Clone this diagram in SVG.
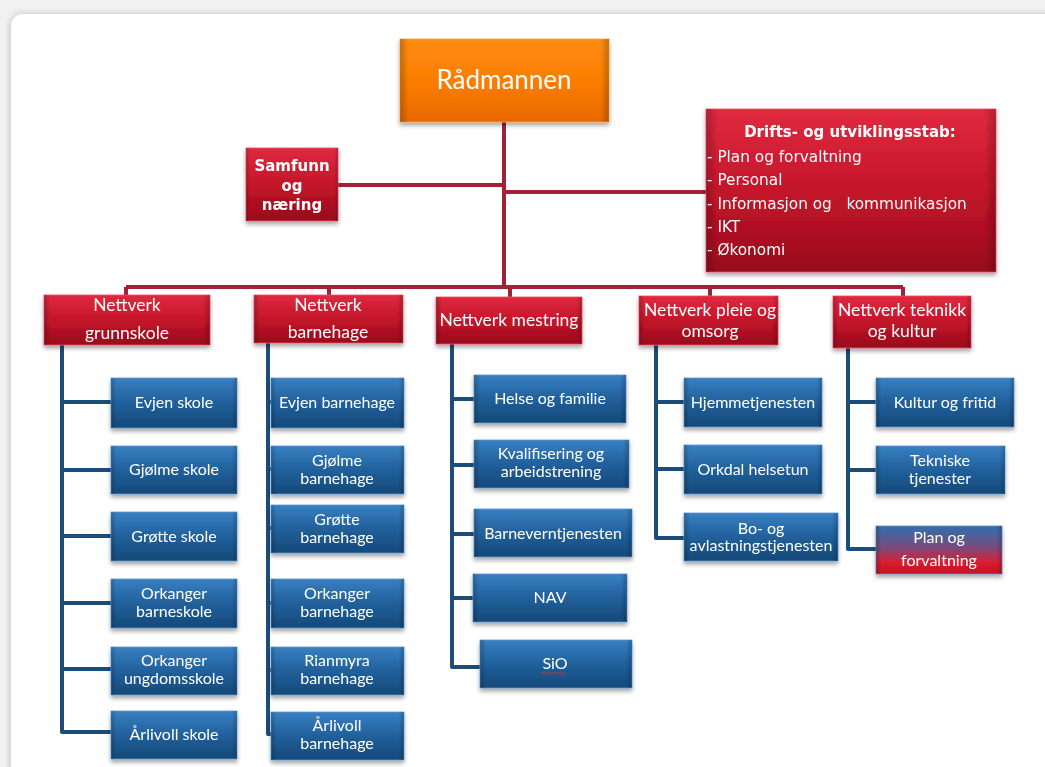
<svg xmlns="http://www.w3.org/2000/svg" width="1045" height="767" viewBox="0 0 1045 767">
<defs>
<linearGradient id="gOrange" x1="0" y1="0" x2="0" y2="1">
<stop offset="0" stop-color="#ff8c10"/><stop offset="0.55" stop-color="#f97c00"/><stop offset="1" stop-color="#e86800"/>
</linearGradient>
<linearGradient id="gRed" x1="0" y1="0" x2="0" y2="1">
<stop offset="0" stop-color="#e02a3f"/><stop offset="0.5" stop-color="#c4152a"/><stop offset="1" stop-color="#980b1b"/>
</linearGradient>
<linearGradient id="gBlue" x1="0" y1="0" x2="0" y2="1">
<stop offset="0" stop-color="#3880c2"/><stop offset="0.5" stop-color="#21609b"/><stop offset="1" stop-color="#154979"/>
</linearGradient>
<linearGradient id="gMix" x1="0" y1="0" x2="0" y2="1">
<stop offset="0" stop-color="#2f6fae"/><stop offset="0.45" stop-color="#7a4a7c"/><stop offset="0.75" stop-color="#d81f33"/><stop offset="1" stop-color="#c4101f"/>
</linearGradient>
<linearGradient id="gEdge" x1="0" y1="0" x2="1" y2="0">
<stop offset="0" stop-color="#000" stop-opacity="0.22"/><stop offset="0.04" stop-color="#000" stop-opacity="0"/><stop offset="0.96" stop-color="#000" stop-opacity="0"/><stop offset="1" stop-color="#000" stop-opacity="0.22"/>
</linearGradient>
<filter id="sh" x="-10%" y="-10%" width="120%" height="140%">
<feDropShadow dx="0" dy="3" stdDeviation="2" flood-color="#000" flood-opacity="0.35"/>
</filter>
<filter id="panelSh" x="-5%" y="-5%" width="110%" height="110%">
<feDropShadow dx="-1" dy="0" stdDeviation="3" flood-color="#000" flood-opacity="0.2"/>
</filter>
</defs>
<style>
.red{fill:url(#gRed);stroke:#f0506a;stroke-width:0.8}
.blue{fill:url(#gBlue);stroke:#5a9ad4;stroke-width:0.8}
.edge{fill:url(#gEdge)}
.or{fill:url(#gOrange);stroke:#ffa040;stroke-width:0.8}
.tc{font-family:Lato,"Open Sans",sans-serif;fill:#fff;text-anchor:middle}
.tn{font-size:17.5px}
.tb{font-size:16px}
.tv{font-family:"DejaVu Sans",Verdana,sans-serif;fill:#fff}
.cr{stroke:#a12236;stroke-width:4;fill:none}
.cb{stroke:#1c4d78;stroke-width:4;fill:none;stroke-linejoin:round}
</style>
<rect x="0" y="0" width="1045" height="767" fill="#f1f1f1"/>
<rect x="11" y="14" width="1060" height="770" rx="12" fill="#ffffff" filter="url(#panelSh)"/>

<g id="connectors">
<path class="cr" d="M504 122 V287 M338 185 H504 M504 192 H706 M126 287 H903 M126 287 V295 M329 287 V295 M510 287 V297 M710 287 V296 M903 287 V296"/>
<path class="cb" d="M62 345 V732 H111 M62 402 H111 M62 470 H111 M62 536 H111 M62 603 H111 M62 669 H111"/>
<path class="cb" d="M268 343 V734 H271 M268 402 H271 M268 469 H271 M268 528 H271 M268 603 H271 M268 670 H271"/>
<path class="cb" d="M452 344 V667 H480 M452 399 H474 M452 465 H474 M452 534 H474 M452 598 H473"/>
<path class="cb" d="M656 345 V538 H684 M656 402 H684 M656 469 H684"/>
<path class="cb" d="M848 348 V549 H876 M848 402 H876 M848 470 H876"/>
</g>

<g id="radmannen" filter="url(#sh)"><rect class="or" x="400" y="39" width="209" height="83"/><rect class="edge" x="400" y="39" width="209" height="83"/><text class="tc" x="504" y="89" font-size="26">Rådmannen</text></g>

<g id="samfunn" filter="url(#sh)"><rect class="red" x="246" y="148" width="92" height="73"/><rect class="edge" x="246" y="148" width="92" height="73"/>
<text class="tv" text-anchor="middle" font-weight="bold" font-size="15"><tspan x="292" y="171">Samfunn</tspan><tspan x="292" y="191">og</tspan><tspan x="292" y="210">næring</tspan></text></g>

<g id="stab" filter="url(#sh)"><rect class="red" x="706" y="109" width="290" height="163"/><rect class="edge" x="706" y="109" width="290" height="163"/>
<text class="tv" x="850" y="137" text-anchor="middle" font-weight="bold" font-size="15">Drifts-  og utviklingsstab:</text>
<text class="tv" font-size="15.3"><tspan x="707" y="162">- Plan og forvaltning</tspan><tspan x="707" y="185">- Personal</tspan><tspan x="707" y="209">- Informasjon og&#160;&#160; kommunikasjon</tspan><tspan x="707" y="232">- IKT</tspan><tspan x="707" y="255">- Økonomi</tspan></text></g>

<g id="n-grunnskole" filter="url(#sh)"><rect class="red" x="44" y="295" width="166" height="50"/><rect class="edge" x="44" y="295" width="166" height="50"/><text class="tc tn"><tspan x="127" y="311">Nettverk</tspan><tspan x="127" y="339">grunnskole</tspan></text></g>
<g id="n-barnehage" filter="url(#sh)"><rect class="red" x="254" y="295" width="149" height="48"/><rect class="edge" x="254" y="295" width="149" height="48"/><text class="tc tn"><tspan x="328" y="311">Nettverk</tspan><tspan x="328" y="338">barnehage</tspan></text></g>
<g id="n-mestring" filter="url(#sh)"><rect class="red" x="436" y="297" width="146" height="47"/><rect class="edge" x="436" y="297" width="146" height="47"/><text class="tc tn" x="509" y="326">Nettverk mestring</text></g>
<g id="n-pleie" filter="url(#sh)"><rect class="red" x="639" y="296" width="139" height="49"/><rect class="edge" x="639" y="296" width="139" height="49"/><text class="tc tn"><tspan x="710" y="316">Nettverk pleie og</tspan><tspan x="710" y="337">omsorg</tspan></text></g>
<g id="n-teknikk" filter="url(#sh)"><rect class="red" x="833" y="296" width="138" height="52"/><rect class="edge" x="833" y="296" width="138" height="52"/><text class="tc tn"><tspan x="902" y="316">Nettverk teknikk</tspan><tspan x="902" y="337">og kultur</tspan></text></g>

<g id="evjen-skole" filter="url(#sh)"><rect class="blue" x="111" y="378" width="126" height="50"/><rect class="edge" x="111" y="378" width="126" height="50"/><text class="tc tb" x="174" y="408">Evjen skole</text></g>
<g id="gjolme-skole" filter="url(#sh)"><rect class="blue" x="111" y="446" width="126" height="48"/><rect class="edge" x="111" y="446" width="126" height="48"/><text class="tc tb" x="174" y="475">Gjølme skole</text></g>
<g id="grotte-skole" filter="url(#sh)"><rect class="blue" x="111" y="512" width="126" height="49"/><rect class="edge" x="111" y="512" width="126" height="49"/><text class="tc tb" x="174" y="542">Grøtte skole</text></g>
<g id="orkanger-barneskole" filter="url(#sh)"><rect class="blue" x="111" y="579" width="126" height="49"/><rect class="edge" x="111" y="579" width="126" height="49"/><text class="tc tb"><tspan x="174" y="599">Orkanger</tspan><tspan x="174" y="617">barneskole</tspan></text></g>
<g id="orkanger-ungdomsskole" filter="url(#sh)"><rect class="blue" x="111" y="647" width="126" height="48"/><rect class="edge" x="111" y="647" width="126" height="48"/><text class="tc tb"><tspan x="174" y="666">Orkanger</tspan><tspan x="174" y="684">ungdomsskole</tspan></text></g>
<g id="arlivoll-skole" filter="url(#sh)"><rect class="blue" x="111" y="711" width="126" height="48"/><rect class="edge" x="111" y="711" width="126" height="48"/><text class="tc tb" x="174" y="740">Årlivoll skole</text></g>

<g id="evjen-bh" filter="url(#sh)"><rect class="blue" x="271" y="378" width="133" height="50"/><rect class="edge" x="271" y="378" width="133" height="50"/><text class="tc tb" x="337" y="408">Evjen barnehage</text></g>
<g id="gjolme-bh" filter="url(#sh)"><rect class="blue" x="271" y="446" width="133" height="48"/><rect class="edge" x="271" y="446" width="133" height="48"/><text class="tc tb"><tspan x="337" y="466">Gjølme</tspan><tspan x="337" y="484">barnehage</tspan></text></g>
<g id="grotte-bh" filter="url(#sh)"><rect class="blue" x="271" y="505" width="133" height="48"/><rect class="edge" x="271" y="505" width="133" height="48"/><text class="tc tb"><tspan x="337" y="525">Grøtte</tspan><tspan x="337" y="543">barnehage</tspan></text></g>
<g id="orkanger-bh" filter="url(#sh)"><rect class="blue" x="271" y="579" width="133" height="49"/><rect class="edge" x="271" y="579" width="133" height="49"/><text class="tc tb"><tspan x="337" y="599">Orkanger</tspan><tspan x="337" y="617">barnehage</tspan></text></g>
<g id="rianmyra-bh" filter="url(#sh)"><rect class="blue" x="271" y="647" width="133" height="48"/><rect class="edge" x="271" y="647" width="133" height="48"/><text class="tc tb"><tspan x="337" y="666">Rianmyra</tspan><tspan x="337" y="684">barnehage</tspan></text></g>
<g id="arlivoll-bh" filter="url(#sh)"><rect class="blue" x="271" y="712" width="133" height="48"/><rect class="edge" x="271" y="712" width="133" height="48"/><text class="tc tb"><tspan x="337" y="731">Årlivoll</tspan><tspan x="337" y="749">barnehage</tspan></text></g>

<g id="helse" filter="url(#sh)"><rect class="blue" x="474" y="375" width="152" height="48"/><rect class="edge" x="474" y="375" width="152" height="48"/><text class="tc tb" x="550" y="404">Helse og familie</text></g>
<g id="kvalifisering" filter="url(#sh)"><rect class="blue" x="474" y="440" width="155" height="48"/><rect class="edge" x="474" y="440" width="155" height="48"/><text class="tc tb"><tspan x="551" y="459">Kvalifisering og</tspan><tspan x="551" y="477">arbeidstrening</tspan></text></g>
<g id="barnevern" filter="url(#sh)"><rect class="blue" x="474" y="509" width="158" height="48"/><rect class="edge" x="474" y="509" width="158" height="48"/><text class="tc tb" x="553" y="539">Barneverntjenesten</text></g>
<g id="nav" filter="url(#sh)"><rect class="blue" x="473" y="574" width="154" height="48"/><rect class="edge" x="473" y="574" width="154" height="48"/><text class="tc tb" x="550" y="603">NAV</text></g>
<g id="sio" filter="url(#sh)"><rect class="blue" x="480" y="640" width="152" height="48"/><rect class="edge" x="480" y="640" width="152" height="48"/><text class="tc tb" x="555" y="669">SiO</text><path d="M541 673 q1.5 -2 3 0 t3 0 t3 0 t3 0 t3 0 t3 0 t3 0 t3 0" stroke="#e03030" stroke-width="1" fill="none"/></g>

<g id="hjemme" filter="url(#sh)"><rect class="blue" x="684" y="378" width="138" height="49"/><rect class="edge" x="684" y="378" width="138" height="49"/><text class="tc tb" x="753" y="408">Hjemmetjenesten</text></g>
<g id="helsetun" filter="url(#sh)"><rect class="blue" x="684" y="445" width="138" height="49"/><rect class="edge" x="684" y="445" width="138" height="49"/><text class="tc tb" x="753" y="475">Orkdal helsetun</text></g>
<g id="bo-avlastning" filter="url(#sh)"><rect class="blue" x="684" y="513" width="154" height="48"/><rect class="edge" x="684" y="513" width="154" height="48"/><text class="tc tb"><tspan x="761" y="534">Bo- og</tspan><tspan x="761" y="551">avlastningstjenesten</tspan></text></g>

<g id="kultur" filter="url(#sh)"><rect class="blue" x="876" y="378" width="138" height="49"/><rect class="edge" x="876" y="378" width="138" height="49"/><text class="tc tb" x="945" y="408">Kultur og fritid</text></g>
<g id="tekniske" filter="url(#sh)"><rect class="blue" x="876" y="446" width="129" height="48"/><rect class="edge" x="876" y="446" width="129" height="48"/><text class="tc tb"><tspan x="940" y="466">Tekniske</tspan><tspan x="940" y="484">tjenester</tspan></text></g>
<g id="plan" filter="url(#sh)"><rect x="876" y="526" width="126" height="48" fill="url(#gMix)" stroke="#6a8ac0" stroke-width="0.8"/><rect class="edge" x="876" y="526" width="126" height="48"/><text class="tc tb"><tspan x="939" y="543">Plan og</tspan><tspan x="939" y="566">forvaltning</tspan></text></g>
</svg>
